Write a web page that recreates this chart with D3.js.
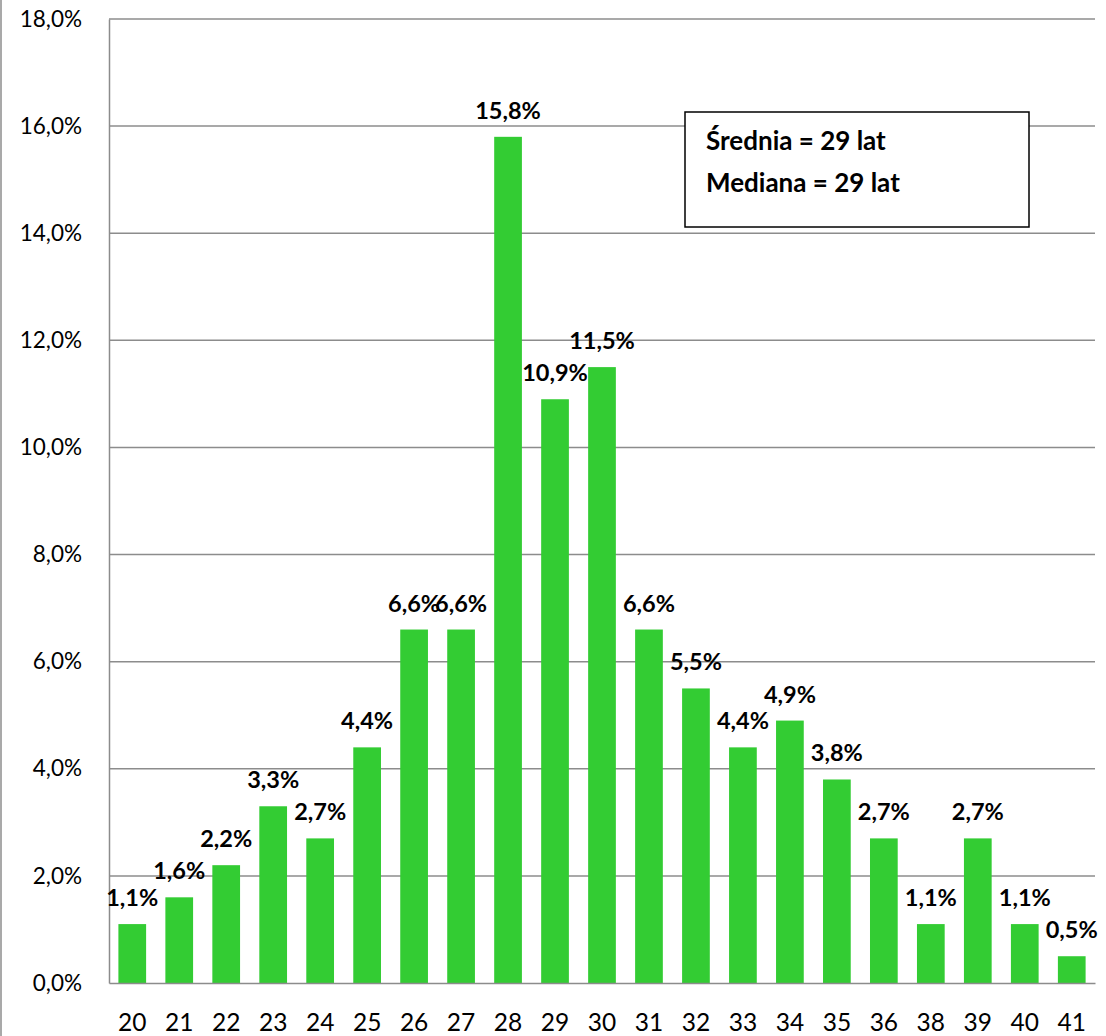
<!DOCTYPE html>
<html>
<head>
<meta charset="utf-8">
<script src="https://cdn.jsdelivr.net/npm/d3@7"></script>
<style>
  html, body { margin: 0; padding: 0; background: #fff; }
  svg { display: block; font-family: Lato, "Open Sans", "Liberation Sans", sans-serif; }
</style>
</head>
<body>
<svg id="chart" width="1106" height="1036"></svg>
<script>
// Age distribution (share of respondents by age)
const ages = ["20","21","22","23","24","25","26","27","28","29","30","31","32","33","34","35","36","38","39","40","41"];
const shares = [1.1, 1.6, 2.2, 3.3, 2.7, 4.4, 6.6, 6.6, 15.8, 10.9, 11.5, 6.6, 5.5, 4.4, 4.9, 3.8, 2.7, 1.1, 2.7, 1.1, 0.5];
const yTicks = [0, 2, 4, 6, 8, 10, 12, 14, 16, 18];
const summaryLines = ["Średnia = 29 lat", "Mediana = 29 lat"];

const svg = d3.select("#chart");
const margin = { left: 109, right: 11, top: 19, bottom: 53 };
const W = 1106, H = 1036;

const x = d3.scaleBand().domain(ages).range([margin.left, W - margin.right]).paddingInner(0.41).paddingOuter(0.2);
const y = d3.scaleLinear().domain([0, 18]).range([H - margin.bottom, margin.top]);

const fmt = v => v.toFixed(1).replace(".", ",") + "%";

// outer frame line on the left edge
svg.append("line").attr("x1", 1).attr("x2", 1).attr("y1", 0).attr("y2", H)
  .attr("stroke", "#8c8c8c").attr("stroke-width", 1.5);

// horizontal gridlines
svg.append("g").selectAll("line").data(yTicks.filter(t => t > 0)).join("line")
  .attr("x1", margin.left).attr("x2", W - margin.right)
  .attr("y1", d => y(d)).attr("y2", d => y(d))
  .attr("stroke", "#8c8c8c").attr("stroke-width", 1.5);

// y axis
const yAxis = svg.append("g").attr("transform", `translate(${margin.left},0)`)
  .call(d3.axisLeft(y).tickValues(yTicks).tickFormat(fmt).tickSize(0).tickPadding(27));
yAxis.select(".domain").attr("stroke", "#8c8c8c").attr("stroke-width", 1.5);
yAxis.selectAll("text").attr("font-size", 22.5).attr("fill", "#000")
  .attr("font-family", "Lato, 'Open Sans', sans-serif");

// bars
svg.append("g").selectAll("rect").data(shares).join("rect")
  .attr("x", (d, i) => x(ages[i]))
  .attr("width", x.bandwidth())
  .attr("y", d => y(d))
  .attr("height", d => y(0) - y(d))
  .attr("fill", "#33cc33");

// x axis
const xAxis = svg.append("g").attr("transform", `translate(0,${y(0)})`)
  .call(d3.axisBottom(x).tickSize(0).tickPadding(31));
xAxis.select(".domain").attr("stroke", "#8c8c8c").attr("stroke-width", 1.5);
xAxis.selectAll("text").attr("font-size", 24.5).attr("fill", "#000")
  .attr("font-family", "Lato, 'Open Sans', sans-serif");

// value labels
svg.append("g").selectAll("text").data(shares).join("text")
  .attr("x", (d, i) => x(ages[i]) + x.bandwidth() / 2)
  .attr("y", d => y(d) - 18)
  .attr("text-anchor", "middle")
  .attr("font-size", 23.5).attr("font-weight", "bold").attr("fill", "#000")
  .text(fmt);

// summary box
const box = svg.append("g").attr("transform", "translate(685,112)");
box.append("rect").attr("width", 344).attr("height", 115)
  .attr("fill", "#fff").attr("stroke", "#000").attr("stroke-width", 1.5);
box.selectAll("text").data(summaryLines).join("text")
  .attr("x", 21).attr("y", (d, i) => 38 + i * 42)
  .attr("font-size", 26).attr("font-weight", "bold").attr("fill", "#000")
  .text(d => d);
</script>
</body>
</html>
